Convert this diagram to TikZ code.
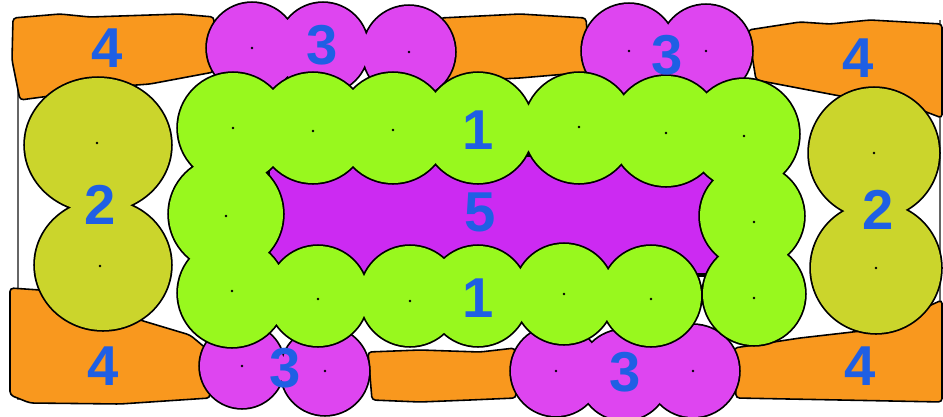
\documentclass[tikz,border=0pt]{standalone}
\usepackage{fontspec}
\setmainfont{Liberation Sans}
\definecolor{naranja}{HTML}{F9981E}
\definecolor{magenta}{HTML}{DE45F0}
\definecolor{morado}{HTML}{CC2AF2}
\definecolor{verde}{HTML}{98F81E}
\definecolor{oliva}{HTML}{CBD52C}
\definecolor{azul}{HTML}{1F5FE4}
\begin{document}
\begin{tikzpicture}[
  x=0.02cm, y=-0.02cm,
  contorno/.style={draw=black, line width=2pt},
  barra/.style={fill=naranja, draw=black, line width=0.9pt, rounded corners=2pt},
  num/.style={font=\fontsize{32}{32}\selectfont\bfseries, text=azul, inner sep=0pt},
  punto/.style={fill=black},
]
\useasboundingbox (0,0) rectangle (943,416);
\fill[white] (0,0) rectangle (943,416);

% --- Marco ---
\draw[black!60, line width=0.6pt] (18,20) -- (18,400);
\draw[black!60, line width=0.6pt] (940,20) -- (940,400);

% --- Barras naranjas (4) ---
\filldraw[barra] (13,18) -- (60,14) -- (90,17) -- (120,16) -- (180,14) -- (214,17) -- (214,72)
  -- (150,84) -- (110,87) -- (80,92) -- (20,100) -- (12,60) -- cycle;
\filldraw[barra] (440,18) -- (520,14) -- (586,18) -- (590,72) -- (520,78) -- (440,82) -- cycle;
\filldraw[barra] (748,30) -- (800,22) -- (830,24) -- (870,20) -- (942,24) -- (942,118)
  -- (900,102) -- (840,96) -- (756,80) -- cycle;
\filldraw[barra] (10,288) -- (40,290) -- (100,300) -- (140,320) -- (190,335) -- (208,350)
  -- (210,398) -- (120,404) -- (30,403) -- (10,395) -- cycle;
\filldraw[barra] (368,352) -- (420,350) -- (480,352) -- (515,348) -- (516,398)
  -- (470,400) -- (420,402) -- (372,400) -- cycle;
\filldraw[barra] (734,348) -- (800,338) -- (870,330) -- (920,310) -- (942,300)
  -- (942,402) -- (840,400) -- (736,398) -- cycle;

% --- Círculos oliva (2) ---
\draw[contorno] (98,145) ellipse [x radius=73, y radius=67] (103,265) ellipse [x radius=68, y radius=65]
  (874,153) circle (65) (876,268) circle (65);
\fill[oliva] (98,145) ellipse [x radius=73, y radius=67] (103,265) ellipse [x radius=68, y radius=65]
  (874,153) circle (65) (876,268) circle (65);

% --- Centro morado (5) ---
\filldraw[fill=morado, contorno] (268,155) rectangle (722,275);

% --- Parejas magenta (3) ---
\draw[contorno] \foreach \x/\y/\r in {252/48/45, 323/48/45, 409/52/46, 629/51/47, 706/51/46,
  242/366/42, 325/371/44, 556/371/45, 624/375/45, 693/371/46} {(\x,\y) circle (\r)};
\fill[magenta] \foreach \x/\y/\r in {252/48/45, 323/48/45, 409/52/46, 629/51/47, 706/51/46,
  242/366/42, 325/371/44, 556/371/45, 624/375/45, 693/371/46} {(\x,\y) circle (\r)};

% --- Anillo verde (1) ---
\draw[contorno] \foreach \x/\y/\r in {233/128/55, 313/128/55, 393/128/55, 478/128/55, 579/128/55,
  666/131/55, 744/134/55, 226/214/57, 752/216/52, 232/293/54, 318/296/50, 410/296/50,
  478/296/50, 564/294/50, 651/296/50, 754/294/51} {(\x,\y) circle (\r)};
\fill[verde] \foreach \x/\y/\r in {233/128/55, 313/128/55, 393/128/55, 478/128/55, 579/128/55,
  666/131/55, 744/134/55, 226/214/57, 752/216/52, 232/293/54, 318/296/50, 410/296/50,
  478/296/50, 564/294/50, 651/296/50, 754/294/51} {(\x,\y) circle (\r)};

% --- Puntos centrales ---
\foreach \x/\y in {97/143, 100/266, 874/153, 876/268, 252/48, 409/52, 629/51, 706/51,
  242/366, 325/371, 556/371, 693/371, 233/128, 313/131, 393/130, 579/127, 666/133, 744/136,
  226/216, 754/222, 232/291, 318/299, 410/301, 564/294, 651/299, 754/298}
  \fill[punto] (\x,\y) circle (1.4);

% --- Números ---
\node[num] (n4a) at (107,48) {4};
\node[num] (n4b) at (858,58) {4};
\node[num] (n4c) at (103,366) {4};
\node[num] (n4d) at (860,366) {4};
\node[num] (n3a) at (322,45) {3};
\node[num] (n3b) at (667,55) {3};
\node[num] (n3c) at (285,368) {3};
\node[num] (n3d) at (625,372) {3};
\node[num] (n2a) at (100,205) {2};
\node[num] (n2b) at (878,210) {2};
\node[num] (n1a) at (478,130) {1};
\node[num] (n1b) at (478,298) {1};
\node[num] (n5) at (480,212) {5};

\end{tikzpicture}
\end{document}
